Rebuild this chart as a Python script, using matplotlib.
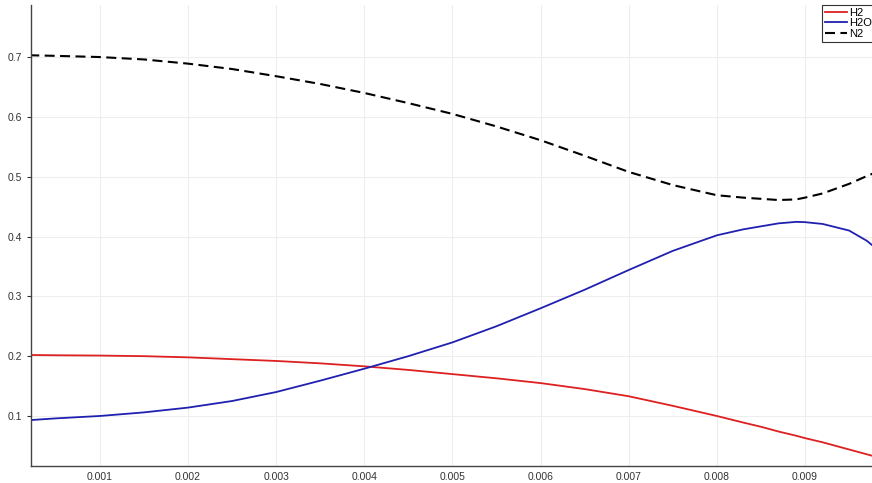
import matplotlib
matplotlib.use("Agg")
import matplotlib.pyplot as plt

# values
x = [0.0002, 0.0005, 0.001, 0.0015, 0.002, 0.0025, 0.003, 0.0035, 0.004, 0.0045,
     0.005, 0.0055, 0.006, 0.0065, 0.007, 0.0075, 0.008, 0.0083, 0.0085, 0.0087,
     0.0089, 0.009, 0.0092, 0.0095, 0.0097, 0.0098]
h2 = [0.202, 0.2015, 0.201, 0.200, 0.198, 0.195, 0.192, 0.188, 0.183, 0.177,
      0.170, 0.163, 0.155, 0.145, 0.133, 0.117, 0.100, 0.089, 0.082, 0.074,
      0.067, 0.063, 0.056, 0.044, 0.036, 0.032]
h2o = [0.093, 0.096, 0.100, 0.106, 0.114, 0.125, 0.140, 0.159, 0.179, 0.200,
       0.223, 0.250, 0.280, 0.311, 0.344, 0.376, 0.402, 0.412, 0.417, 0.422,
       0.4245, 0.424, 0.421, 0.410, 0.393, 0.381]
n2 = [0.703, 0.702, 0.700, 0.696, 0.689, 0.680, 0.668, 0.655, 0.640, 0.623,
      0.605, 0.584, 0.561, 0.535, 0.508, 0.486, 0.469, 0.465, 0.463, 0.461,
      0.462, 0.465, 0.472, 0.488, 0.501, 0.507]
xticks = [0.001, 0.002, 0.003, 0.004, 0.005, 0.006, 0.007, 0.008, 0.009]
yticks = [0.1, 0.2, 0.3, 0.4, 0.5, 0.6, 0.7]

plt.rcParams['font.family'] = ['Liberation Sans', 'DejaVu Sans']

fig = plt.figure(figsize=(8.72, 4.83), dpi=100)
ax = fig.add_axes([31/872, 17/483, 1 - 31/872, 461/483])

ax.plot(x, h2, color='#dd2020', lw=1.3, label='H2')
ax.plot(x, h2o, color='#2020b0', lw=1.3, label='H2O')
ax.plot(x, n2, color='black', lw=1.5, dashes=(4.8, 2.6), label='N2')

ax.set_xlim(0.00022, 0.00976)
ax.set_ylim(0.0164, 0.787)
ax.set_xticks(xticks)
ax.set_xticklabels([str(t) for t in xticks])
ax.set_yticks(yticks)
ax.set_yticklabels([str(t) for t in yticks])
ax.tick_params(axis='both', labelsize=7.5, colors='#333333', length=3, width=0.8)
ax.tick_params(axis='x', length=0, pad=4)
ax.grid(True, color='#eeeeee', lw=0.8)
ax.set_axisbelow(True)

for s in ['top', 'right']:
    ax.spines[s].set_visible(False)
for s in ['left', 'bottom']:
    ax.spines[s].set_color('#444444')
    ax.spines[s].set_linewidth(1.0)

leg = fig.legend(loc='upper left', bbox_to_anchor=(822/872, 1 - 5/483), fontsize=8,
                 handlelength=2.0, handletextpad=0.15, borderpad=0.25, labelspacing=0.05,
                 fancybox=False, framealpha=1, borderaxespad=0)
leg.get_frame().set_edgecolor('#333333')
leg.get_frame().set_linewidth(0.8)

fig.savefig('out.png', dpi=100)
